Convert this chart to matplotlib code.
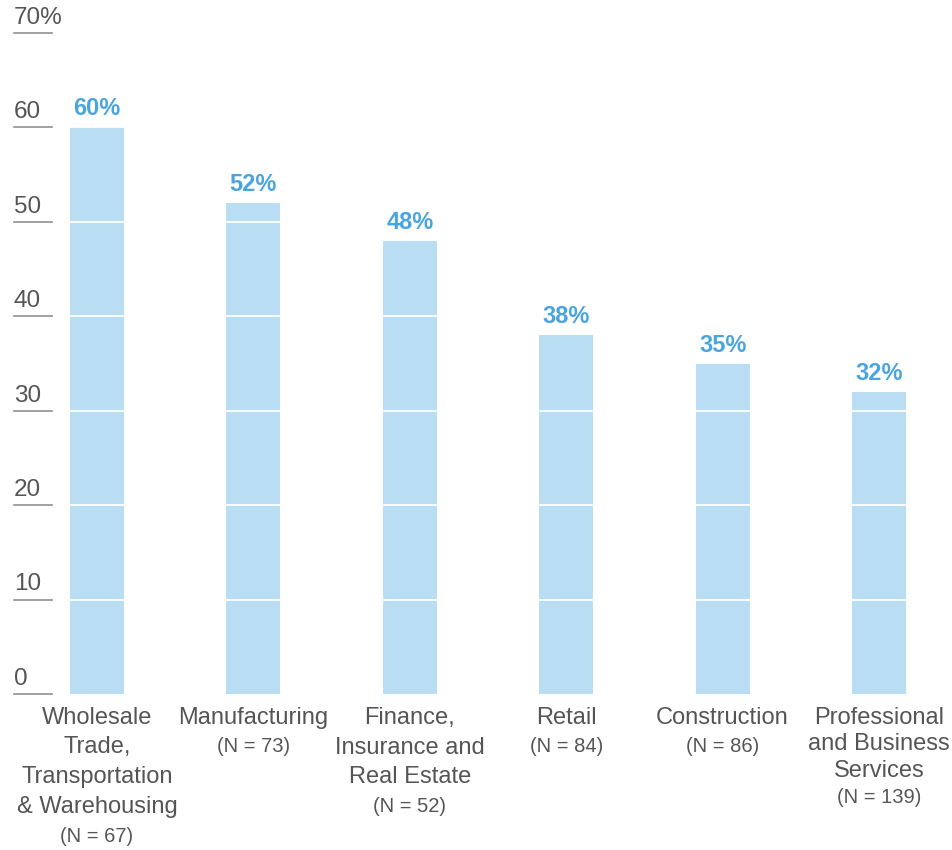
import matplotlib.pyplot as plt

plt.rcParams['font.family'] = ['Liberation Sans', 'DejaVu Sans']

categories = [
    ["Wholesale", "Trade,", "Transportation", "& Warehousing"],
    ["Manufacturing"],
    ["Finance,", "Insurance and", "Real Estate"],
    ["Retail"],
    ["Construction"],
    ["Professional", "and Business", "Services"],
]
sample_sizes = [67, 73, 52, 84, 86, 139]
values = [60, 52, 48, 38, 35, 32]
yticks = [0, 10, 20, 30, 40, 50, 60, 70]
ytick_labels = ["0", "10", "20", "30", "40", "50", "60", "70%"]

bar_color = "#B9DDF2"
label_color = "#4AA5DE"
text_color = "#555555"

fig = plt.figure(figsize=(9.53, 8.5), dpi=100)
ax = fig.add_axes([0.0, 156 / 850, 1.0, 661 / 850])
ax.set_xlim(-0.620, 5.473)
ax.set_ylim(0, 70)
ax.axis("off")

x = list(range(len(values)))
ax.bar(x, values, width=0.345, color=bar_color, zorder=1)

# white gridlines cut through the bars
for t in yticks[1:-1]:
    ax.axhline(t, color="white", lw=1.3, zorder=2)

# short grey rule under each y label
for t, lab in zip(yticks, ytick_labels):
    ax.plot([-0.531, -0.288], [t, t], color="#9A9A9A", lw=1.3, clip_on=False, zorder=3)
    ax.annotate(lab, xy=(-0.531, t), xytext=(0, 3), textcoords="offset points",
                ha="left", va="bottom", fontsize=17.5, color=text_color)

# value labels above bars
for xi, v in zip(x, values):
    ax.annotate(f"{v}%", xy=(xi, v), xytext=(0, 5), textcoords="offset points",
                ha="center", va="bottom", fontsize=17, fontweight="bold", color=label_color)

# category names and sample sizes below the axis
for xi, lines, n in zip(x, categories, sample_sizes):
    step = 26.5 if lines[0] == "Professional" else 29.5
    for k, line in enumerate(lines):
        ax.annotate(line, xy=(xi, 0), xytext=(0, -(24 + k * step) * 0.72),
                    textcoords="offset points", ha="center", va="center",
                    fontsize=17, color=text_color)
    n_off = 24 + len(lines) * step - (1.5 if len(lines) == 1 else 0)
    ax.annotate(f"(N = {n})", xy=(xi, 0), xytext=(0, -n_off * 0.72),
                textcoords="offset points", ha="center", va="center",
                fontsize=14.5, color=text_color)

fig.savefig("out.png", dpi=100)
